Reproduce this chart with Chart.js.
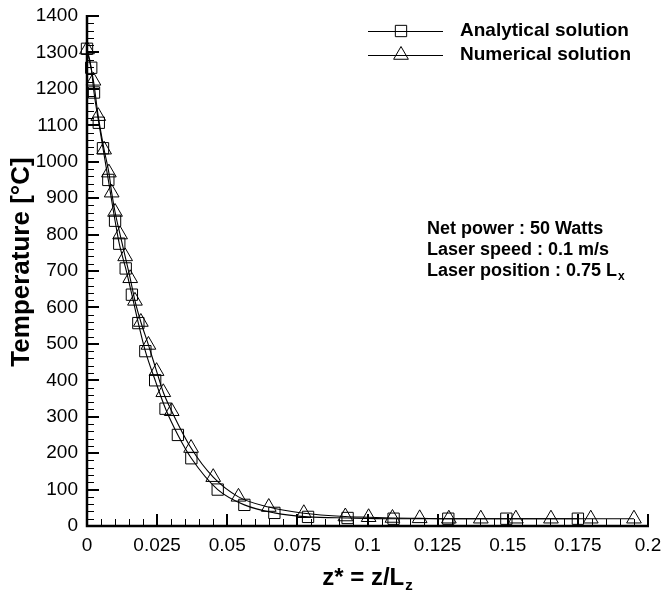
<!DOCTYPE html>
<html><head><meta charset="utf-8">
<script src="https://cdn.jsdelivr.net/npm/chart.js@4.4.1/dist/chart.umd.min.js"></script>
<style>html,body{margin:0;padding:0;background:#fff}#wrap{width:661px;height:594px;position:relative}</style>
</head><body><div id="wrap"><canvas id="c" width="661" height="594"></canvas></div>
<script>
// Analytical solution (squares)
const zAnalytical = [0, 0.0015, 0.0025, 0.0042, 0.0057, 0.0076, 0.0100, 0.0115, 0.0138, 0.0160, 0.0183, 0.0208, 0.0243, 0.0280, 0.0324, 0.0372, 0.0466, 0.0561, 0.0668, 0.0788, 0.0929, 0.1093, 0.1288, 0.1495, 0.1750];
const tAnalytical = [1310, 1258, 1190, 1107, 1037, 950, 838, 775, 707, 635, 557, 480, 400, 322, 250, 186, 100, 58, 36, 25, 22, 20, 20, 20, 20];
// Numerical solution (triangles)
const zNumerical = [0, 0.0023, 0.0040, 0.0061, 0.0078, 0.0088, 0.0100, 0.0118, 0.0136, 0.0154, 0.0171, 0.0192, 0.0219, 0.0248, 0.0272, 0.0302, 0.0371, 0.0450, 0.0540, 0.0648, 0.0773, 0.0921, 0.1004, 0.1089, 0.1186, 0.1290, 0.1404, 0.1529, 0.1654, 0.1796, 0.1950];
const tNumerical = [1308, 1222, 1125, 1033, 970, 915, 862, 800, 740, 680, 618, 560, 497, 425, 367, 315, 214, 134, 80, 52, 35, 26, 24, 22, 21, 20, 20, 20, 20, 20, 20];

const seriesNames = ['Analytical solution', 'Numerical solution'];
const yTicks = [0, 100, 200, 300, 400, 500, 600, 700, 800, 900, 1000, 1100, 1200, 1300, 1400];
const xTicks = [0, 0.025, 0.05, 0.075, 0.1, 0.125, 0.15, 0.175, 0.2];
const xTickLabels = ['0', '0.025', '0.05', '0.075', '0.1', '0.125', '0.15', '0.175', '0.2'];
const yMinorStep = 20;
const xMinorStep = 0.005;
const noteLines = ['Net power : 50 Watts', 'Laser speed : 0.1 m/s', 'Laser position : 0.75 L'];

const FONT = '"Liberation Sans", Arial, Helvetica, sans-serif';

function toPts(xs, ys) { return xs.map((x, i) => ({x: x, y: ys[i]})); }

function drawMarker(ctx, style, x, y, r) {
  ctx.beginPath();
  if (style === 'rect') {
    const s = r * Math.SQRT1_2;
    ctx.rect(x - s, y - s, 2 * s, 2 * s);
  } else {
    const h = r * Math.sqrt(3) / 2;
    ctx.moveTo(x, y - r);
    ctx.lineTo(x + h, y + r / 2);
    ctx.lineTo(x - h, y + r / 2);
    ctx.closePath();
  }
  ctx.stroke();
}

const decor = {
  id: 'decor',
  beforeDatasetsDraw(chart) {
    const ctx = chart.ctx, xs = chart.scales.x, ys = chart.scales.y;
    const L = xs.getPixelForValue(0), R = xs.getPixelForValue(0.2);
    const B = ys.getPixelForValue(0), T = ys.getPixelForValue(1400);
    ctx.save();
    ctx.strokeStyle = '#000';
    ctx.lineWidth = 1;
    ctx.beginPath();
    for (let k = 0; k <= 70; k++) {
      if (k % 5 === 0) continue;
      const p = Math.round(ys.getPixelForValue(k * yMinorStep)) + 0.5;
      ctx.moveTo(L, p); ctx.lineTo(L + 7, p);
    }
    for (let k = 0; k <= 40; k++) {
      if (k % 5 === 0) continue;
      const p = Math.round(xs.getPixelForValue(k * xMinorStep)) + 0.5;
      ctx.moveTo(p, B); ctx.lineTo(p, B - 7);
    }
    ctx.stroke();
    ctx.lineWidth = 2;
    ctx.beginPath();
    yTicks.forEach(v => { const p = Math.round(ys.getPixelForValue(v)); ctx.moveTo(L, p); ctx.lineTo(L + 12, p); });
    xTicks.forEach(v => { const p = Math.round(xs.getPixelForValue(v)); ctx.moveTo(p, B); ctx.lineTo(p, B - 12); });
    ctx.stroke();
    ctx.lineWidth = 2.5;
    ctx.beginPath();
    ctx.moveTo(L, T - 1); ctx.lineTo(L, B);
    ctx.lineTo(R + 1, B);
    ctx.stroke();
    ctx.restore();
  },
  afterDraw(chart) {
    const ctx = chart.ctx;
    ctx.save();
    ctx.fillStyle = '#000';
    ctx.strokeStyle = '#000';
    // Y title
    ctx.save();
    ctx.translate(22, 262);
    ctx.rotate(-Math.PI / 2);
    ctx.font = 'bold 26px ' + FONT;
    ctx.textAlign = 'center';
    ctx.textBaseline = 'middle';
    ctx.fillText('Temperature [°C]', 0, 0);
    ctx.restore();
    // X title
    ctx.font = 'bold 24px ' + FONT;
    ctx.textBaseline = 'middle';
    ctx.textAlign = 'left';
    const main = 'z* = z/L';
    const w1 = ctx.measureText(main).width;
    ctx.font = 'bold 15px ' + FONT;
    const w2 = ctx.measureText('z').width;
    let x0 = 367 - (w1 + w2) / 2;
    ctx.font = 'bold 24px ' + FONT;
    ctx.fillText(main, x0, 578);
    ctx.font = 'bold 15px ' + FONT;
    ctx.fillText('z', x0 + w1 + 1, 586);
    // Legend
    const styles = ['rect', 'triangle'];
    const legY = [31, 55];
    for (let i = 0; i < 2; i++) {
      ctx.lineWidth = 1;
      ctx.beginPath();
      ctx.moveTo(368, legY[i] + 0.5); ctx.lineTo(443, legY[i] + 0.5);
      ctx.stroke();
      drawMarker(ctx, styles[i], 401, legY[i], i === 0 ? 8 : 8.5);
      ctx.font = 'bold 19px ' + FONT;
      ctx.textAlign = 'left';
      ctx.textBaseline = 'middle';
      ctx.fillText(seriesNames[i], 460, legY[i]);
    }
    // Notes
    ctx.font = 'bold 18px ' + FONT;
    const noteY = [229, 250, 271];
    noteLines.forEach((s, i) => ctx.fillText(s, 427, noteY[i]));
    const wl = ctx.measureText(noteLines[2]).width;
    ctx.font = 'bold 12px ' + FONT;
    ctx.fillText('x', 427 + wl + 1, noteY[2] + 6);
    ctx.restore();
  }
};

function zeroPad(s) { s.paddingLeft = 0; s.paddingRight = 0; s.paddingTop = 0; s.paddingBottom = 0; }

new Chart(document.getElementById('c'), {
  type: 'line',
  data: {
    datasets: [
      { label: seriesNames[0], data: toPts(zAnalytical, tAnalytical), borderColor: '#000', borderWidth: 1.1,
        pointStyle: 'rect', pointRadius: 8, pointBorderColor: '#000', pointBackgroundColor: 'rgba(0,0,0,0)', pointBorderWidth: 1,
        cubicInterpolationMode: 'monotone', fill: false },
      { label: seriesNames[1], data: toPts(zNumerical, tNumerical), borderColor: '#000', borderWidth: 1.1,
        pointStyle: 'triangle', pointRadius: 8.5, pointBorderColor: '#000', pointBackgroundColor: 'rgba(0,0,0,0)', pointBorderWidth: 1,
        cubicInterpolationMode: 'monotone', fill: false }
    ]
  },
  options: {
    responsive: false,
    animation: false,
    devicePixelRatio: 1,
    clip: false,
    layout: { padding: { left: 0, right: 13, top: 16, bottom: 0 } },
    plugins: { legend: { display: false }, tooltip: { enabled: false } },
    scales: {
      x: {
        type: 'linear', min: 0, max: 0.2,
        afterFit: s => { s.height = 68; zeroPad(s); },
        afterBuildTicks: s => { s.ticks = xTicks.map(v => ({ value: v })); },
        grid: { display: false, drawTicks: false },
        border: { display: false },
        ticks: { color: '#000', padding: 8, maxRotation: 0, autoSkip: false, font: { family: FONT, size: 19 },
          callback: (v, i) => xTickLabels[i] }
      },
      y: {
        type: 'linear', min: 0, max: 1400,
        afterFit: s => { s.width = 87; zeroPad(s); },
        afterBuildTicks: s => { s.ticks = yTicks.map(v => ({ value: v })); },
        grid: { display: false, drawTicks: false },
        border: { display: false },
        ticks: { color: '#000', padding: 9, autoSkip: false, font: { family: FONT, size: 19 },
          callback: (v, i) => String(yTicks[i]) }
      }
    }
  },
  plugins: [decor]
});
</script></body></html>
